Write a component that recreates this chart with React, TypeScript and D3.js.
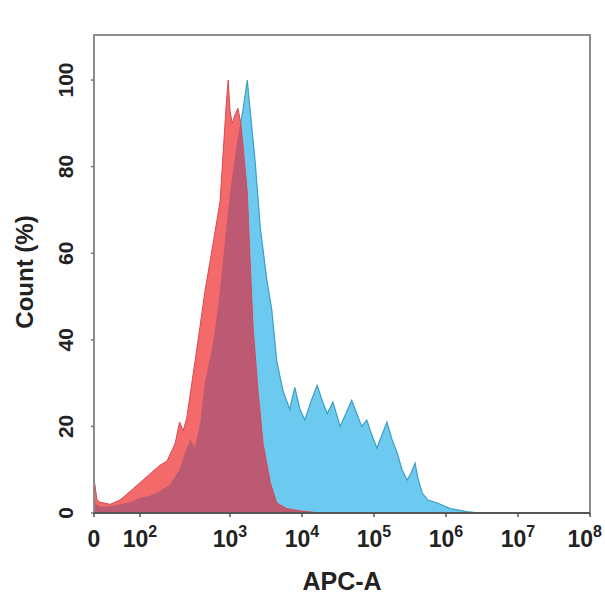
import React from "react";
import * as d3 from "d3";

// x values are in axis-decade units: 0 = "0", 2 = 10^2, 3 = 10^3 ... 8 = 10^8
const blueX = [0.0, 0.1, 0.26, 0.7, 1.13, 1.57, 2.0, 2.11, 2.22, 2.33, 2.44, 2.5, 2.56, 2.61, 2.67, 2.72, 2.81, 2.87, 2.92, 3.0, 3.1, 3.18, 3.24, 3.28, 3.35, 3.42, 3.51, 3.58, 3.65, 3.74, 3.83, 3.9, 3.97, 4.04, 4.13, 4.21, 4.28, 4.35, 4.43, 4.53, 4.61, 4.69, 4.76, 4.83, 4.9, 4.97, 5.04, 5.11, 5.18, 5.25, 5.32, 5.39, 5.46, 5.51, 5.57, 5.61, 5.67, 5.75, 5.88, 6.06, 6.29, 6.47];
const blueY = [3, 2, 1.5, 1.5, 2, 2.5, 3.5, 4, 5, 6.5, 10, 14, 17, 15, 21, 30, 39, 48, 58, 74, 86, 93, 100, 93, 81, 66, 54, 47, 35, 28, 24, 29, 24, 21.5, 26, 29.5, 26, 23, 25.6, 20, 23, 26, 23, 20, 21.5, 18, 15, 18, 21, 17, 14, 10, 7.6, 9, 11.5, 8, 4.6, 3, 2.3, 1, 0.3, 0];

const redX = [0.0, 0.13, 0.26, 0.7, 1.13, 1.35, 1.57, 2.0, 2.11, 2.22, 2.3, 2.39, 2.44, 2.48, 2.52, 2.59, 2.66, 2.72, 2.81, 2.89, 2.92, 2.96, 2.98, 3.0, 3.03, 3.07, 3.11, 3.15, 3.18, 3.24, 3.28, 3.32, 3.39, 3.46, 3.56, 3.65, 3.79, 3.97, 4.25];
const redY = [8, 3, 2.5, 2, 3, 4, 5, 7, 9, 11, 12, 16, 21, 19, 22, 32, 42, 51, 62, 72, 82, 95, 100, 93, 90, 92, 93.5, 90, 85, 74, 58, 43, 28, 16, 7, 2.3, 1, 0.5, 0];

const yTicks = [0, 20, 40, 60, 80, 100];
const xTickVals = [0, 2, 3, 4, 5, 6, 7, 8];
const xTickExp = ["", "2", "3", "4", "5", "6", "7", "8"];

const W = 605, H = 608;
const M = { left: 94, top: 35, right: 15, bottom: 95 };
const iw = W - M.left - M.right; // 496
const ih = H - M.top - M.bottom; // 478

export default function App() {
  const x = d3.scaleLinear().domain([0, 2, 3, 8]).range([0, iw * 0.0927, iw * 0.2742, iw]);
  const y = d3.scaleLinear().domain([0, 110.4]).range([ih, 0]);
  const blue = blueX.map((v, i) => [v, blueY[i]] as [number, number]);
  const red = redX.map((v, i) => [v, redY[i]] as [number, number]);
  const area = d3.area<[number, number]>().x(d => x(d[0])).y0(y(0)).y1(d => y(d[1]));
  const line = d3.line<[number, number]>().x(d => x(d[0])).y(d => y(d[1]));
  const font = "'Liberation Sans', Arial, sans-serif";
  const last = xTickVals.length - 1;
  return (
    <svg width={W} height={H} style={{ position: "absolute", left: 0, top: 0, background: "#fff" }}>
      <defs>
        <clipPath id="blueClip"><path d={area(blue) || ""} /></clipPath>
      </defs>
      <g transform={`translate(${M.left},${M.top})`}>
        <path d={area(blue) || ""} fill="#6cc9ef" />
        <path d={line(blue) || ""} fill="none" stroke="#3d9fc2" strokeWidth={1.2} />
        <path d={area(red) || ""} fill="#f46a6b" />
        <path d={area(red) || ""} fill="#bb5a72" clipPath="url(#blueClip)" />
        <path d={line(red) || ""} fill="none" stroke="#d94a52" strokeWidth={1} />
        <rect x={0} y={0} width={iw} height={ih} fill="none" stroke="#8c8c8c" strokeWidth={2} />
        <line x1={0} x2={iw} y1={ih} y2={ih} stroke="#555" strokeWidth={2} />
        {yTicks.map(t => (
          <g key={t}>
            <line x1={-3} x2={0} y1={y(t)} y2={y(t)} stroke="#777" strokeWidth={1.5} />
            <text transform={`translate(-21,${y(t)}) rotate(-90)`} textAnchor="middle" fontFamily={font} fontWeight="bold" fontSize={21} fill="#222">{t}</text>
          </g>
        ))}
        {xTickVals.map((t, i) => (
          <g key={t} transform={`translate(${x(t)},${ih})`}>
            <line y1={0} y2={4} stroke="#555" strokeWidth={1.5} />
            <text x={i === last ? 12 : 0} y={34} textAnchor={i === last ? "end" : "middle"} fontFamily={font} fontWeight="bold" fontSize={23} fill="#222">
              {t === 0 ? "0" : <>10<tspan dy={-10} fontSize={16}>{xTickExp[i]}</tspan></>}
            </text>
          </g>
        ))}
        <text x={iw / 2} y={ih + 77} textAnchor="middle" fontFamily={font} fontWeight="bold" fontSize={25} fill="#222">APC-A</text>
        <text transform={`translate(-61,${ih / 2 - 2}) rotate(-90)`} textAnchor="middle" fontFamily={font} fontWeight="bold" fontSize={24} fill="#222">Count  (%)</text>
      </g>
    </svg>
  );
}
